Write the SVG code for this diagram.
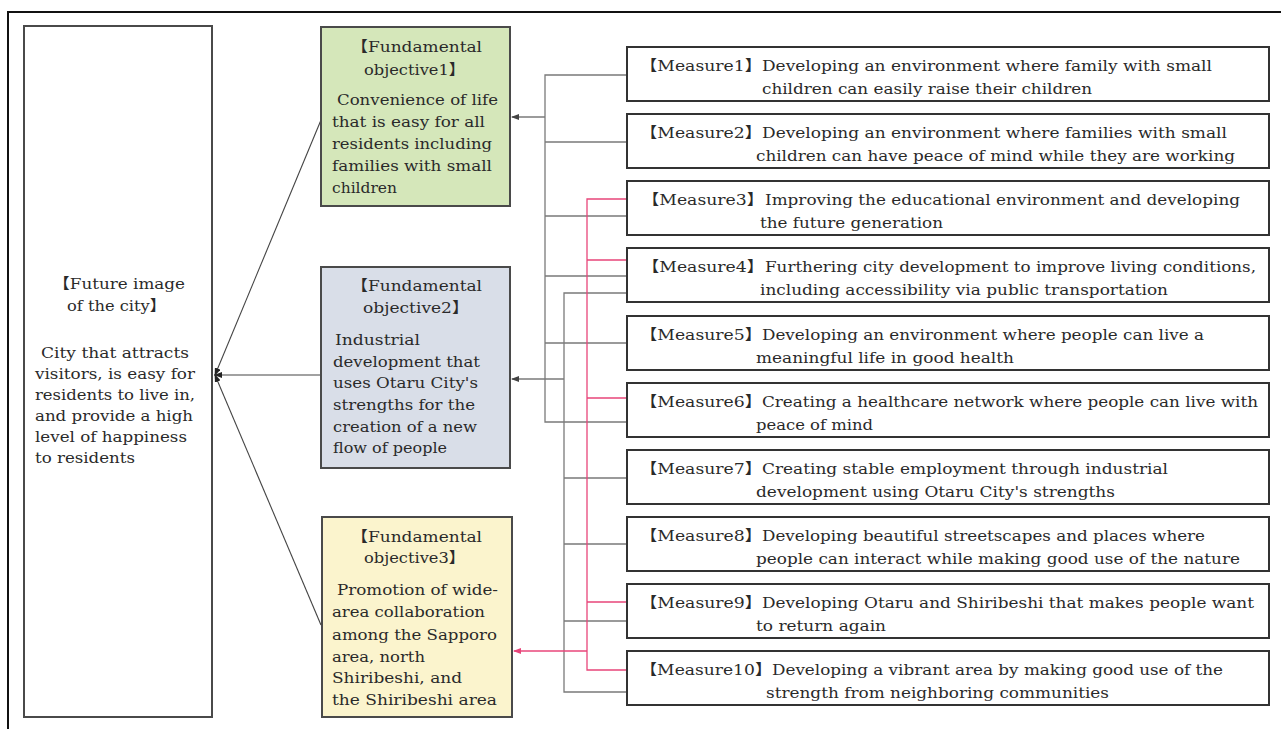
<svg xmlns="http://www.w3.org/2000/svg" width="1281" height="729" viewBox="0 0 1281 729">
<defs>
<style>
text{font-family:"DejaVu Serif","Noto Sans CJK JP",serif;font-size:15px;fill:#2a2a2a}
.box{stroke:#4a4a4a;stroke-width:2}
.m{fill:#fff;stroke:#333;stroke-width:2}
.g{stroke:#7a7a7a;stroke-width:1.3;fill:none}
.p{stroke:#e8467a;stroke-width:1.3;fill:none}
.k{stroke:#444;stroke-width:1.1;fill:none}
</style>
<marker id="ak" markerWidth="8" markerHeight="6" refX="7" refY="3" orient="auto" markerUnits="userSpaceOnUse"><path d="M0,0 L8,3 L0,6 z" fill="#222"/></marker>
<marker id="ag" markerWidth="8" markerHeight="6" refX="7" refY="3" orient="auto" markerUnits="userSpaceOnUse"><path d="M0,0 L8,3 L0,6 z" fill="#444"/></marker>
<marker id="ap" markerWidth="8" markerHeight="6" refX="7" refY="3" orient="auto" markerUnits="userSpaceOnUse"><path d="M0,0 L8,3 L0,6 z" fill="#e8467a"/></marker>
</defs>
<rect x="0" y="0" width="1281" height="729" fill="#fff"/>
<path d="M8,729 V12 H1281" fill="none" stroke="#111" stroke-width="2"/>

<g id="connectors">
<line class="k" x1="321" y1="120" x2="215" y2="375" marker-end="url(#ak)"/>
<line class="k" x1="321" y1="375" x2="215" y2="375" marker-end="url(#ak)"/>
<line class="k" x1="321" y1="625" x2="215" y2="375" marker-end="url(#ak)"/>
<path class="g" d="M627,75 H545 V422 H627 M545,142 H627 M545,216 H627 M545,276 H627 M545,343 H627"/>
<line class="g" x1="545" y1="117" x2="512" y2="117" marker-end="url(#ag)"/>
<path class="g" d="M627,293 H564 V692 H627 M564,478 H627 M564,544 H627 M564,621 H627"/>
<line class="g" x1="564" y1="379" x2="512" y2="379" marker-end="url(#ag)"/>
<path class="p" d="M627,199 H587 V670 H627 M587,260 H627 M587,398 H627 M587,602 H627"/>
<line class="p" x1="587" y1="651" x2="514" y2="651" marker-end="url(#ap)"/>
</g>

<g id="future-image">
<rect class="box" x="24" y="26" width="188" height="691" fill="#fff"/>
<text x="53" y="289" textLength="132" lengthAdjust="spacingAndGlyphs">【Future image</text>
<text x="67" y="311" textLength="99" lengthAdjust="spacingAndGlyphs">of the city】</text>
<text x="41" y="358" textLength="148" lengthAdjust="spacingAndGlyphs">City that attracts</text>
<text x="35" y="379" textLength="160" lengthAdjust="spacingAndGlyphs">visitors, is easy for</text>
<text x="35" y="400" textLength="160" lengthAdjust="spacingAndGlyphs">residents to live in,</text>
<text x="35" y="421" textLength="158" lengthAdjust="spacingAndGlyphs">and provide a high</text>
<text x="35" y="442" textLength="152" lengthAdjust="spacingAndGlyphs">level of happiness</text>
<text x="35" y="463" textLength="100" lengthAdjust="spacingAndGlyphs">to residents</text>
</g>

<g id="objective1">
<rect class="box" x="321" y="27" width="189" height="179" fill="#d5e7ba"/>
<text x="351" y="52" textLength="131" lengthAdjust="spacingAndGlyphs">【Fundamental</text>
<text x="364" y="75" textLength="101" lengthAdjust="spacingAndGlyphs">objective1】</text>
<text x="337" y="105" textLength="161" lengthAdjust="spacingAndGlyphs">Convenience of life</text>
<text x="332" y="127" textLength="153" lengthAdjust="spacingAndGlyphs">that is easy for all</text>
<text x="332" y="149" textLength="160" lengthAdjust="spacingAndGlyphs">residents including</text>
<text x="332" y="171" textLength="160" lengthAdjust="spacingAndGlyphs">families with small</text>
<text x="332" y="193" textLength="65" lengthAdjust="spacingAndGlyphs">children</text>
</g>

<g id="objective2">
<rect class="box" x="321" y="267" width="189" height="201" fill="#d9dee8"/>
<text x="351" y="291" textLength="131" lengthAdjust="spacingAndGlyphs">【Fundamental</text>
<text x="363" y="313" textLength="106" lengthAdjust="spacingAndGlyphs">objective2】</text>
<text x="335" y="345" textLength="85" lengthAdjust="spacingAndGlyphs">Industrial</text>
<text x="333" y="367" textLength="147" lengthAdjust="spacingAndGlyphs">development that</text>
<text x="333" y="388" textLength="145" lengthAdjust="spacingAndGlyphs">uses Otaru City's</text>
<text x="333" y="410" textLength="142" lengthAdjust="spacingAndGlyphs">strengths for the</text>
<text x="333" y="432" textLength="144" lengthAdjust="spacingAndGlyphs">creation of a new</text>
<text x="333" y="453" textLength="114" lengthAdjust="spacingAndGlyphs">flow of people</text>
</g>

<g id="objective3">
<rect class="box" x="322" y="517" width="190" height="200" fill="#fbf4cd"/>
<text x="351" y="542" textLength="131" lengthAdjust="spacingAndGlyphs">【Fundamental</text>
<text x="364" y="563" textLength="101" lengthAdjust="spacingAndGlyphs">objective3】</text>
<text x="337" y="595" textLength="161" lengthAdjust="spacingAndGlyphs">Promotion of wide-</text>
<text x="332" y="617" textLength="153" lengthAdjust="spacingAndGlyphs">area collaboration</text>
<text x="332" y="640" textLength="165" lengthAdjust="spacingAndGlyphs">among the Sapporo</text>
<text x="332" y="662" textLength="93" lengthAdjust="spacingAndGlyphs">area, north</text>
<text x="332" y="683" textLength="130" lengthAdjust="spacingAndGlyphs">Shiribeshi, and</text>
<text x="332" y="705" textLength="165" lengthAdjust="spacingAndGlyphs">the Shiribeshi area</text>
</g>

<g id="measure1">
<rect class="m" x="627" y="47" width="642" height="54"/>
<text x="640" y="71" textLength="122" lengthAdjust="spacingAndGlyphs">【Measure1】</text>
<text x="762" y="71" textLength="450" lengthAdjust="spacingAndGlyphs">Developing an environment where family with small</text>
<text x="762" y="94" textLength="330" lengthAdjust="spacingAndGlyphs">children can easily raise their children</text>
</g>
<g id="measure2">
<rect class="m" x="627" y="114" width="642" height="54"/>
<text x="640" y="138" textLength="122" lengthAdjust="spacingAndGlyphs">【Measure2】</text>
<text x="762" y="138" textLength="465" lengthAdjust="spacingAndGlyphs">Developing an environment where families with small</text>
<text x="756" y="161" textLength="479" lengthAdjust="spacingAndGlyphs">children can have peace of mind while they are working</text>
</g>
<g id="measure3">
<rect class="m" x="627" y="181" width="642" height="54"/>
<text x="642" y="205" textLength="122" lengthAdjust="spacingAndGlyphs">【Measure3】</text>
<text x="765" y="205" textLength="475" lengthAdjust="spacingAndGlyphs">Improving the educational environment and developing</text>
<text x="760" y="228" textLength="183" lengthAdjust="spacingAndGlyphs">the future generation</text>
</g>
<g id="measure4">
<rect class="m" x="627" y="248" width="642" height="54"/>
<text x="642" y="272" textLength="122" lengthAdjust="spacingAndGlyphs">【Measure4】</text>
<text x="765" y="272" textLength="491" lengthAdjust="spacingAndGlyphs">Furthering city development to improve living conditions,</text>
<text x="760" y="295" textLength="408" lengthAdjust="spacingAndGlyphs">including accessibility via public transportation</text>
</g>
<g id="measure5">
<rect class="m" x="627" y="316" width="642" height="54"/>
<text x="640" y="340" textLength="122" lengthAdjust="spacingAndGlyphs">【Measure5】</text>
<text x="762" y="340" textLength="442" lengthAdjust="spacingAndGlyphs">Developing an environment where people can live a</text>
<text x="756" y="363" textLength="258" lengthAdjust="spacingAndGlyphs">meaningful life in good health</text>
</g>
<g id="measure6">
<rect class="m" x="627" y="383" width="642" height="54"/>
<text x="640" y="407" textLength="122" lengthAdjust="spacingAndGlyphs">【Measure6】</text>
<text x="762" y="407" textLength="496" lengthAdjust="spacingAndGlyphs">Creating a healthcare network where people can live with</text>
<text x="756" y="430" textLength="117" lengthAdjust="spacingAndGlyphs">peace of mind</text>
</g>
<g id="measure7">
<rect class="m" x="627" y="450" width="642" height="54"/>
<text x="640" y="474" textLength="122" lengthAdjust="spacingAndGlyphs">【Measure7】</text>
<text x="762" y="474" textLength="406" lengthAdjust="spacingAndGlyphs">Creating stable employment through industrial</text>
<text x="756" y="497" textLength="359" lengthAdjust="spacingAndGlyphs">development using Otaru City's strengths</text>
</g>
<g id="measure8">
<rect class="m" x="627" y="517" width="642" height="54"/>
<text x="640" y="541" textLength="122" lengthAdjust="spacingAndGlyphs">【Measure8】</text>
<text x="762" y="541" textLength="443" lengthAdjust="spacingAndGlyphs">Developing beautiful streetscapes and places where</text>
<text x="756" y="564" textLength="484" lengthAdjust="spacingAndGlyphs">people can interact while making good use of the nature</text>
</g>
<g id="measure9">
<rect class="m" x="627" y="584" width="642" height="54"/>
<text x="640" y="608" textLength="122" lengthAdjust="spacingAndGlyphs">【Measure9】</text>
<text x="762" y="608" textLength="492" lengthAdjust="spacingAndGlyphs">Developing Otaru and Shiribeshi that makes people want</text>
<text x="756" y="631" textLength="130" lengthAdjust="spacingAndGlyphs">to return again</text>
</g>
<g id="measure10">
<rect class="m" x="627" y="651" width="642" height="54"/>
<text x="640" y="675" textLength="132" lengthAdjust="spacingAndGlyphs">【Measure10】</text>
<text x="772" y="675" textLength="451" lengthAdjust="spacingAndGlyphs">Developing a vibrant area by making good use of the</text>
<text x="766" y="698" textLength="343" lengthAdjust="spacingAndGlyphs">strength from neighboring communities</text>
</g>
</svg>
